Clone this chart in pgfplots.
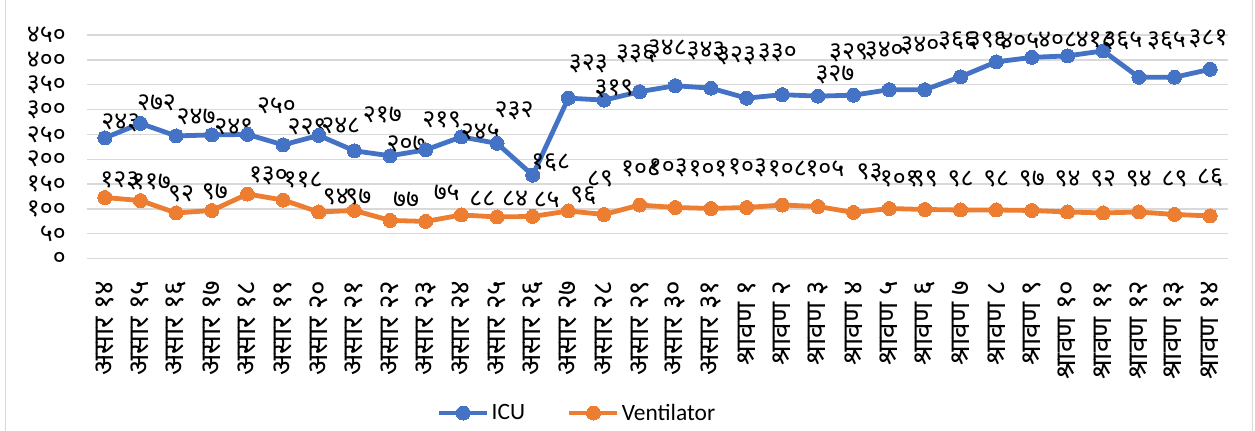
\documentclass[border=0pt]{standalone}
\usepackage{fontspec}
\usepackage{pgfplots}
\usepackage{pgfplotstable}
\pgfplotsset{compat=1.18}
\setmainfont{Carlito}
\newfontfamily\deva[Script=Devanagari]{Noto Sans}
\definecolor{icu}{HTML}{4472C4}
\definecolor{vent}{HTML}{ED7D31}
\definecolor{gridc}{HTML}{D9D9D9}

\pgfplotstableread{
x y lab dx dy
0 243 २४३ 16 6
1 272 २७२ 16 13
2 247 २४७ 20 11
3 249 २४९ 22 0
4 250 २५० 29 21
5 229 २२९ 24 10
6 248 २४८ 22 2
7 217 २१७ 28 28
8 207 २०७ 16 4
9 219 २१९ 16 22
10 245 २४५ 19 -3
11 232 २३२ 17 23
12 168 १६८ 18 3
13 323 ३२३ 20 25
14 319 ३१९ 10 2
15 336 ३३६ -4 29
16 348 ३४८ -8 28
17 343 ३४३ -5 28
18 323 ३२३ -10 33
19 330 ३३० -5 33
20 327 ३२७ 17 12
21 329 ३२९ -5 33
22 340 ३४० -5 30
23 340 ३४० -5 35
24 366 ३६६ -3 27
25 396 ३९६ -9 12
26 405 ४०५ -12 9
27 408 ४०८ -10 8
28 418 ४१८ -8 3
29 365 ३६५ -16 27
30 365 ३६५ -8 27
31 381 ३८१ -2 21
}\icudata

\pgfplotstableread{
x y lab dx dy
0 123 १२३ 15 8
1 117 ११७ 11 10
2 92 ९२ 5 11
3 97 ९७ 3 10
4 130 १३० 21 9
5 118 ११८ 20 12
6 94 ९४ 17 7
7 97 ९७ 4 5
8 77 ७७ 16 13
9 75 ७५ 21 21
10 88 ८८ 21 8
11 84 ८४ 18 10
12 85 ८५ 14 9
13 96 ९६ 15 6
14 89 ८९ -4 27
15 108 १०८ 1 28
16 103 १०३ -7 30
17 101 १०१ -3 31
18 103 १०३ 1 30
19 108 १०८ 5 28
20 105 १०५ 7 29
21 93 ९३ 16 30
22 101 १०१ 10 21
23 99 ९९ 0 22
24 98 ९८ 0 23
25 98 ९८ 0 23
26 97 ९७ 0 23
27 94 ९४ 0 25
28 92 ९२ 0 26
29 94 ९४ 0 25
30 89 ८९ 0 27
31 86 ८६ 0 29
}\ventdata

\pgfplotsset{
  mylabels/.style={
    nodes near coords,
    point meta=explicit symbolic,
    visualization depends on={\thisrow{dx} \as \labdx},
    visualization depends on={\thisrow{dy} \as \labdy},
    every node near coord/.append style={font=\deva\fontsize{25}{28}\selectfont, text=black, inner sep=0pt, anchor=south, xshift={\labdx bp}, yshift={\labdy bp}},
  }
}

\begin{document}
\begin{tikzpicture}
\useasboundingbox (0,0) rectangle (1255bp,431bp);
\draw[gridc, line width=1bp] (5bp,-5bp) rectangle (1252.5bp,440bp);
\begin{axis}[
  at={(87bp,172.3bp)}, anchor=south west,
  scale only axis, width=1141bp, height=223.7bp,
  xmin=-0.5, xmax=31.5, ymin=0, ymax=450,
  clip=false,
  ytick={0,50,...,450},
  yticklabels={०,५०,१००,१५०,२००,२५०,३००,३५०,४००,४५०},
  xtick={0,...,31},
  xticklabels={असार १४,असार १५,असार १६,असार १७,असार १८,असार १९,असार २०,असार २१,असार २२,असार २३,असार २४,असार २५,असार २६,असार २७,असार २८,असार २९,असार ३०,असार ३१,श्रावण १,श्रावण २,श्रावण ३,श्रावण ४,श्रावण ५,श्रावण ६,श्रावण ७,श्रावण ८,श्रावण ९,श्रावण १०,श्रावण ११,श्रावण १२,श्रावण १३,श्रावण १४},
  axis line style={draw=none},
  major tick length=0pt,
  ymajorgrids, grid style={gridc, line width=1.3bp},
  tick label style={inner sep=0pt, text=black},
  yticklabel style={font=\deva\fontsize{25}{28}\selectfont, xshift=-21bp},
  xticklabel style={font=\deva\fontsize{28}{32}\selectfont, yshift=-22bp, rotate=90, anchor=east},
  legend style={draw=none, fill=none, at={(0.4295,-0.69)}, anchor=center,
    font=\fontsize{23.5}{27}\selectfont, legend columns=-1,
    /tikz/every even column/.append style={column sep=40bp}},
  legend image code/.code={\draw[mark repeat=2,mark phase=2,#1] plot coordinates {(0bp,0bp) (24bp,0bp) (48bp,0bp)};},
]
\addplot[icu, line width=4.8bp, mark=*, mark size=7bp, mark options={solid, fill=icu, draw=icu, line width=0pt}, mylabels] table[x=x, y=y, meta=lab]{\icudata};
\addlegendentry{ICU}
\addplot[vent, line width=4.8bp, mark=*, mark size=7bp, mark options={solid, fill=vent, draw=vent, line width=0pt}, mylabels] table[x=x, y=y, meta=lab]{\ventdata};
\addlegendentry{Ventilator}
\end{axis}
\end{tikzpicture}
\end{document}
